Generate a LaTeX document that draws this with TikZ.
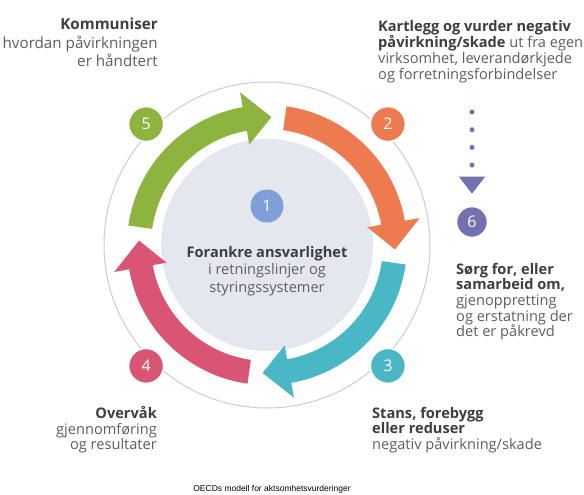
\documentclass[tikz,border=0pt]{standalone}
\usepackage{fontspec}
\setmainfont{Open Sans}
\newfontfamily\captionfont{Liberation Sans}
\usetikzlibrary{arrows.meta,positioning,calc}
\definecolor{stepgreen}{HTML}{8DB43E}
\definecolor{steporange}{HTML}{EE7A50}
\definecolor{stepteal}{HTML}{4AB7C6}
\definecolor{steppink}{HTML}{DA5473}
\definecolor{stepblue}{HTML}{7E9FD8}
\definecolor{steppurple}{HTML}{7471AF}
\definecolor{coregray}{HTML}{E4E7EE}
\definecolor{ringgray}{HTML}{C9CDD9}
\definecolor{textdark}{HTML}{3E3E3E}
\definecolor{textgray}{HTML}{5E5E5E}
\newcommand{\hd}[1]{\textcolor{textdark}{\textbf{#1}}}
\tikzset{
    num/.style={
        circle,
        draw=white,
        line width=1.5pt,
        minimum size=35pt,
        inner sep=0pt,
        text=white,
        font=\fontsize{16}{16}\selectfont
    },
    blurb/.style={
        inner sep=0pt,
        text=textgray,
        font=\fontsize{14.6}{15.6}\selectfont
    },
    dotline/.style={
        steppurple,
        line width=5pt,
        line cap=round,
        dash pattern=on 0pt off 17.7pt,
        -{Triangle[width=25pt,length=17pt]}
    }
}

\begin{document}
\begin{tikzpicture}[x=1pt,y=1pt]
\useasboundingbox (0,0) rectangle (584,495);
\fill[white] (0,0) rectangle (584,495);

\node[circle, draw=ringgray, line width=1pt, minimum size=326pt] (ring) at (267,250) {};
\node[circle, fill=coregray, minimum size=212pt] (core) at (267,250) {};

\begin{scope}[shift={(267,250)}]
\fill[stepgreen] (172:140) arc[start angle=172, end angle=100, radius=140]
    -- (100:155) -- (88:128) -- (100:102) -- (100:116)
    arc[start angle=100, end angle=172, radius=116] -- cycle;
\fill[steporange] (82:140) arc[start angle=82, end angle=10, radius=140]
    -- (10:155) -- (-2:128) -- (10:102) -- (10:116)
    arc[start angle=10, end angle=82, radius=116] -- cycle;
\fill[stepteal] (-8:140) arc[start angle=-8, end angle=-80, radius=140]
    -- (-80:155) -- (-92:128) -- (-80:102) -- (-80:116)
    arc[start angle=-80, end angle=-8, radius=116] -- cycle;
\fill[steppink] (-98:140) arc[start angle=-98, end angle=-170, radius=140]
    -- (-170:155) -- (-182:128) -- (-170:102) -- (-170:116)
    arc[start angle=-170, end angle=-98, radius=116] -- cycle;
\end{scope}

\node[num, fill=stepblue, draw=none, minimum size=33pt] (n1) at (267,289) {1};
\node[num, fill=steporange] (n2) at ($(ring.center)+(45:171)$) {2};
\node[num, fill=stepteal] (n3) at ($(ring.center)+(-45:171)$) {3};
\node[num, fill=steppink] (n4) at ($(ring.center)+(-135:171)$) {4};
\node[num, fill=stepgreen] (n5) at ($(ring.center)+(135:171)$) {5};
\node[num, fill=steppurple, minimum size=31pt] (n6) at (472,273) {6};

\coordinate (dots) at (472,383);
\draw[dotline, shorten >=12pt] (dots) -- (n6.north);

\node[blurb, align=center, font=\fontsize{14.6}{17.5}\selectfont] (t1) at (267,224)
    {\hd{Forankre ansvarlighet}\\i retningslinjer og\\styringssystemer};
\node[blurb, align=left, anchor=north west, font=\fontsize{14.6}{16.2}\selectfont] (t2) at (378,475)
    {\hd{Kartlegg og vurder negativ}\\\hd{påvirkning/skade} ut fra egen\\virksomhet, leverandørkjede\\og forretningsforbindelser};
\node[blurb, align=left, anchor=north west] (t6) at (456,232)
    {\hd{Sørg for, eller}\\\hd{samarbeid om,}\\gjenoppretting\\og erstatning der\\det er påkrevd};
\node[blurb, align=left, anchor=north west] (t3) at (372,88)
    {\hd{Stans, forebygg}\\\hd{eller reduser}\\negativ påvirkning/skade};
\node[blurb, align=right, anchor=north east] (t4) at (157,89)
    {\hd{Overvåk}\\gjennomføring\\og resultater};
\node[blurb, align=right, anchor=north east, font=\fontsize{15.2}{18.5}\selectfont] (t5) at (158,477)
    {\hd{Kommuniser}\\hvordan påvirkningen\\er håndtert};

\node[font=\captionfont\fontsize{8.5}{8.5}\selectfont] (cap) at (272,6)
    {OECDs modell for aktsomhetsvurderinger};

\end{tikzpicture}
\end{document}
